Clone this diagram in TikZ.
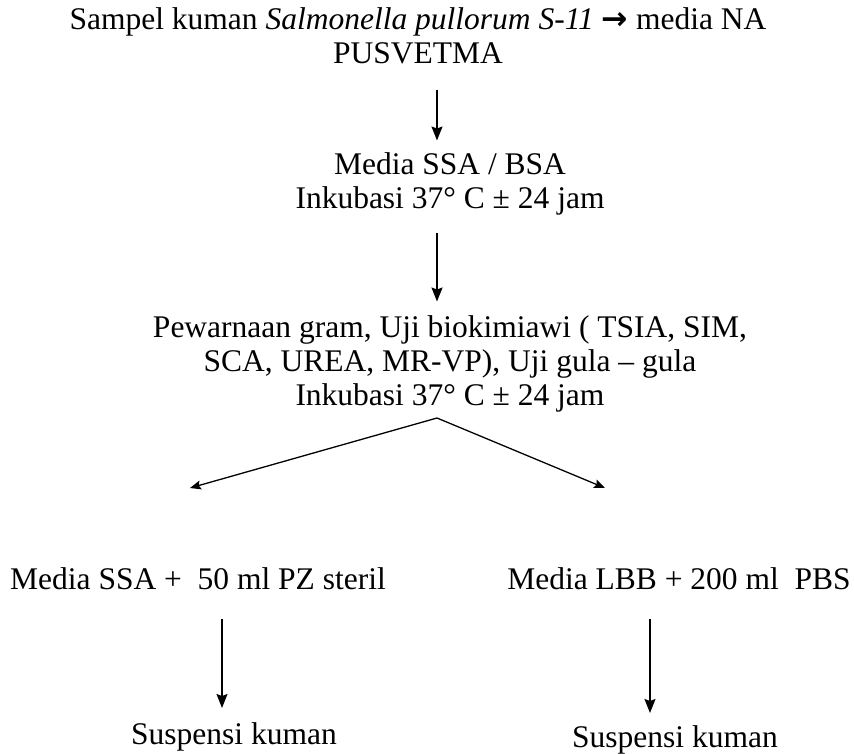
\documentclass[tikz,border=0pt]{standalone}
\usepackage{fontspec}
\setmainfont{Liberation Serif}
\newfontfamily\arrowfont{DejaVu Sans}
\usetikzlibrary{arrows.meta}

\begin{document}
\begin{tikzpicture}[x=1pt, y=-1pt, font=\fontsize{31.5}{34}\selectfont,
    every node/.style={inner sep=0pt, align=center},
    flow/.style={-{Stealth[length=14pt, width=11pt, inset=2pt]}, line width=1.6pt},
    fork/.style={-{Stealth[length=11pt, width=9pt, inset=2pt]}, line width=1.3pt}]
   \useasboundingbox (0,0) rectangle (854,754);

   \node (src) at (418,36) {Sampel kuman \textit{Salmonella pullorum S-11} {\arrowfont\bfseries →} media NA\\PUSVETMA};
   \node (ssa) at (450,184) {Media SSA / BSA\\Inkubasi 37° C ± 24 jam};
   \node (uji) at (450,364) {Pewarnaan gram, Uji biokimiawi ( TSIA, SIM,\\SCA, UREA, MR-VP), Uji gula -- gula\\Inkubasi 37° C ± 24 jam};
   \node[anchor=base] (left) at (198,589) {Media SSA +\ \ 50 ml PZ steril};
   \node[anchor=base] (right) at (679,589) {Media LBB + 200 ml\ \ PBS};
   \node[anchor=base] (susL) at (234,744) {Suspensi kuman};
   \node[anchor=base] (susR) at (675,747) {Suspensi kuman};

   \coordinate (apex) at (437,418);
   \coordinate (tipL) at (190,488);
   \coordinate (tipR) at (605,488);

   % alur utama
   \draw[flow] ([shift={(19,26)}]src.south) -- ([shift={(-13,-12)}]ssa.north);
   \draw[flow] ([shift={(-13,18)}]ssa.south) -- ([shift={(-13,-14)}]uji.north);
   % percabangan
   \draw[fork] (apex) -- (tipL);
   \draw[fork] (apex) -- (tipR);
   \draw[flow, line width=1.1pt] ([shift={(24,30)}]left.base) -- ([shift={(-12,-36)}]susL.base);
   \draw[flow] ([shift={(-29,30)}]right.base) -- ([shift={(-25,-34)}]susR.base);
\end{tikzpicture}
\end{document}
